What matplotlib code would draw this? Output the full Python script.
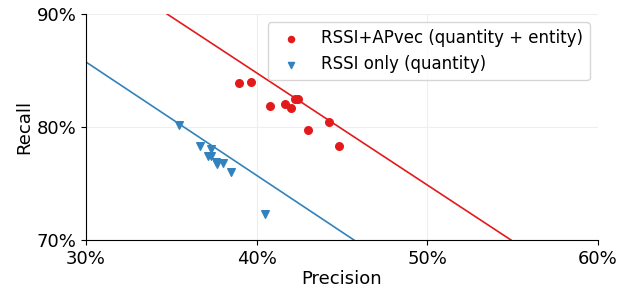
import matplotlib
matplotlib.use('Agg')
import matplotlib.pyplot as plt
from matplotlib.ticker import PercentFormatter

# Precision / recall (%)
apvec_precision = [38.96, 39.67, 40.8, 41.66, 42.0, 42.24, 42.45, 43.0, 44.24, 44.8]
apvec_recall = [83.85, 84.0, 81.85, 82.0, 81.65, 82.45, 82.45, 79.75, 80.45, 78.3]

rssi_precision = [35.45, 36.7, 37.3, 37.15, 37.3, 37.6, 37.7, 38.05, 38.5, 40.5]
rssi_recall = [80.2, 78.35, 78.05, 77.4, 77.45, 76.9, 76.7, 76.8, 76.0, 72.3]

# trend line end points (precision, recall)
apvec_trend_x = [34.75, 54.9]
apvec_trend_y = [90.0, 70.0]
rssi_trend_x = [30.0, 45.7]
rssi_trend_y = [85.75, 70.0]

red = '#e31a1c'
blue = '#3182bd'

fig = plt.figure(figsize=(6.38, 2.92), dpi=100)
ax = fig.add_axes([86 / 638, 52 / 292, 512 / 638, 226 / 292])

ax.plot(apvec_trend_x, apvec_trend_y, color=red, linewidth=1.2, zorder=2)
ax.plot(rssi_trend_x, rssi_trend_y, color=blue, linewidth=1.2, zorder=2)
ax.scatter(apvec_precision, apvec_recall, color=red, marker='o', s=30,
           zorder=3, label='RSSI+APvec (quantity + entity)')
ax.scatter(rssi_precision, rssi_recall, color=blue, marker='v', s=30,
           zorder=3, label='RSSI only (quantity)')

ax.set_xlim(30, 60)
ax.set_ylim(70, 90)
ax.set_xticks([30, 40, 50, 60])
ax.set_yticks([70, 80, 90])
ax.xaxis.set_major_formatter(PercentFormatter(decimals=0))
ax.yaxis.set_major_formatter(PercentFormatter(decimals=0))
ax.tick_params(labelsize=13)
ax.grid(True, color='#eeeeee', linewidth=0.8, zorder=0)
ax.set_axisbelow(True)
for side in ['top', 'right']:
    ax.spines[side].set_visible(False)
ax.set_xlabel('Precision', fontsize=13, labelpad=2)
ax.set_ylabel('Recall', fontsize=13, labelpad=2)

ax.legend(loc='upper right', fontsize=12, markerscale=0.8)

fig.savefig('out.png', dpi=100)
